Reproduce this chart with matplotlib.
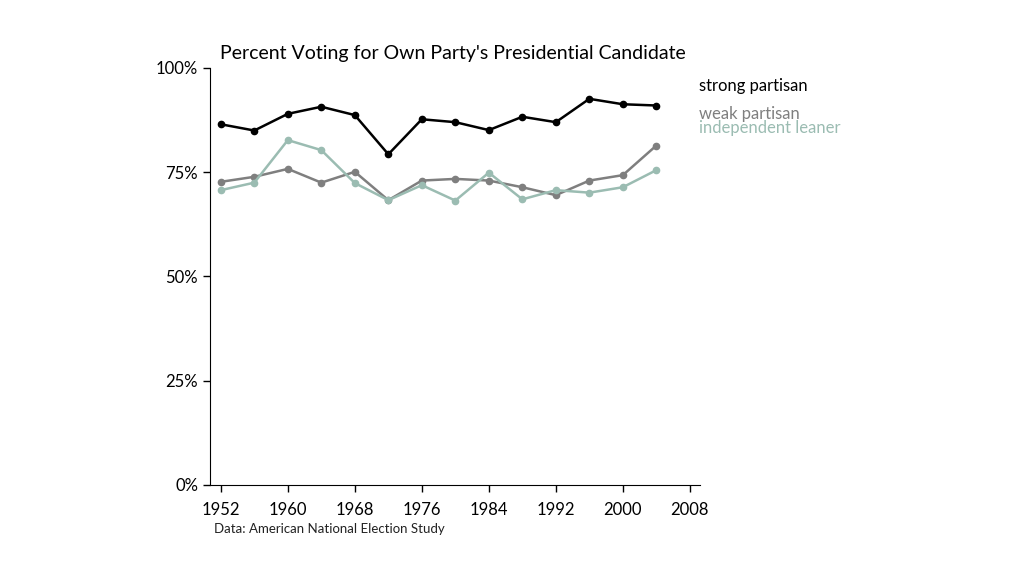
"""Percent voting for own party's presidential candidate, by partisanship"""
import matplotlib
matplotlib.use("Agg")
from matplotlib import pyplot as plt
from matplotlib.ticker import FuncFormatter

plt.rcParams['font.family'] = ['Lato', 'DejaVu Sans']

years = [1952, 1956, 1960, 1964, 1968, 1972, 1976, 1980, 1984, 1988, 1992, 1996, 2000, 2004]
strong = [86.5, 85.0, 89.0, 90.7, 88.7, 79.3, 87.7, 87.0, 85.1, 88.3, 87.0, 92.6, 91.3, 91.0]
weak = [72.7, 73.9, 75.8, 72.5, 75.1, 68.3, 73.0, 73.4, 73.0, 71.4, 69.5, 73.0, 74.3, 81.4]
leaner = [70.7, 72.5, 82.7, 80.3, 72.4, 68.3, 71.9, 68.2, 74.9, 68.5, 70.7, 70.1, 71.4, 75.5]

series_names = ["strong partisan", "weak partisan", "independent leaner"]
series_colors = ["#000000", "#7f7f7f", "#9bbcb2"]
label_y = [95.7, 89.0, 85.6]

x_ticks = [1952, 1960, 1968, 1976, 1984, 1992, 2000, 2008]
y_ticks = [0, 25, 50, 75, 100]

fig = plt.figure(figsize=(10.24, 5.76), dpi=100)
ax = fig.add_axes([0.205, 0.158, 0.4785, 0.724])

for values, name, color, ly in zip([strong, weak, leaner], series_names, series_colors, label_y):
    ax.plot(years, values, color=color, lw=1.8, marker='o', markersize=4.5)
    ax.text(2009.1, ly, name, color=color, fontsize=12, va='center', ha='left', clip_on=False)

ax.set_xlim(1950.7, 2009.2)
ax.set_ylim(0, 100)
ax.set_xticks(x_ticks)
ax.set_yticks(y_ticks)
ax.yaxis.set_major_formatter(FuncFormatter(lambda v, p: f"{v:.0f}%"))
ax.tick_params(labelsize=12, direction='out', length=5, width=1, colors='#000000')
ax.tick_params(axis='x', pad=7)
for s in ['top', 'right']:
    ax.spines[s].set_visible(False)

fig.text(0.215, 0.897, "Percent Voting for Own Party's Presidential Candidate", fontsize=14, ha='left', va='baseline')
fig.text(0.209, 0.081, "Data: American National Election Study", fontsize=9.5, ha='left', va='center', color='#222222')

fig.savefig("out.png", dpi=100)
